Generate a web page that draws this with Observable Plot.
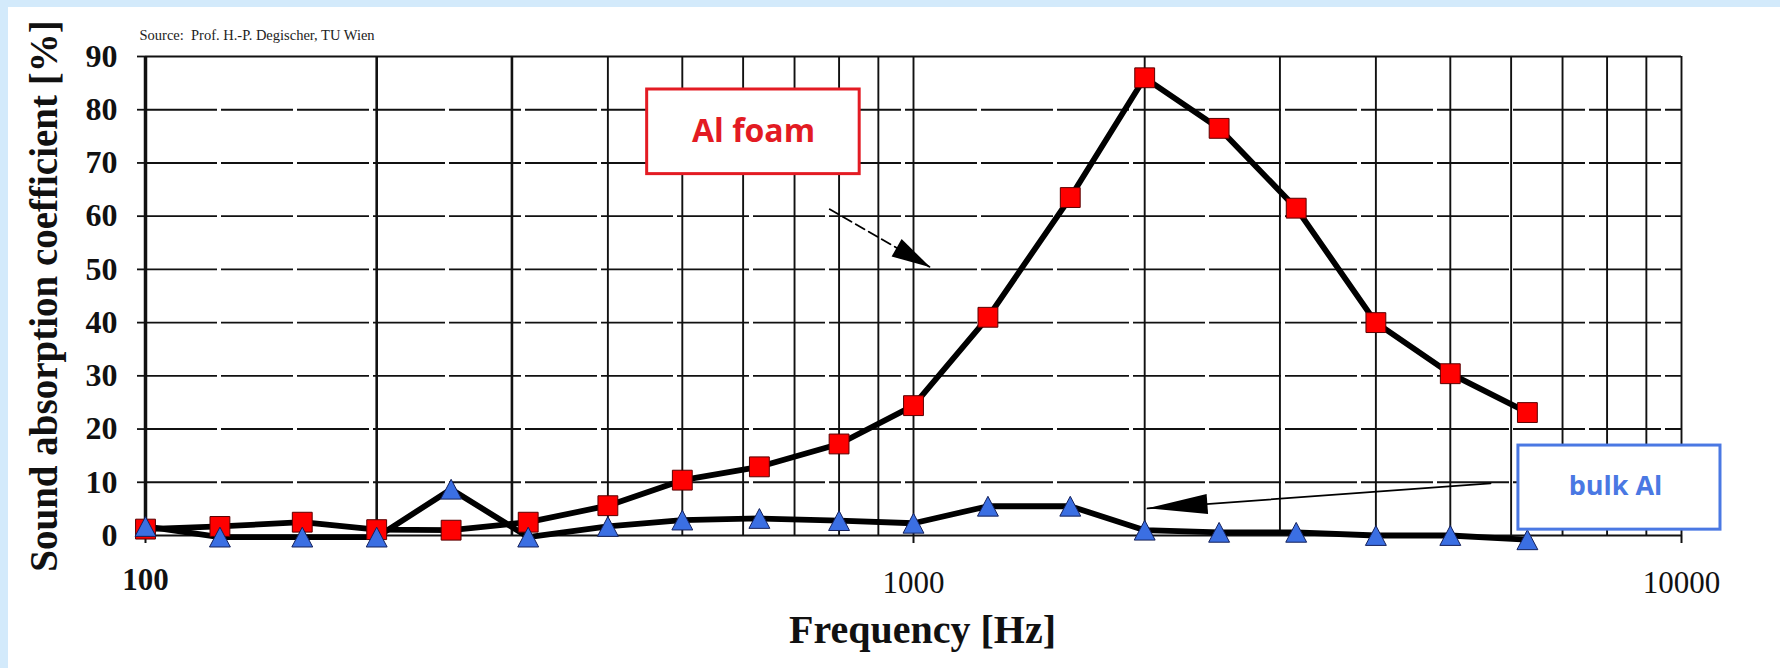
<!DOCTYPE html>
<html>
<head>
<meta charset="utf-8">
<script src="https://cdn.jsdelivr.net/npm/d3@7"></script>
<script src="https://cdn.jsdelivr.net/npm/@observablehq/plot@0.6"></script>
<style>
  html, body { margin: 0; padding: 0; background: #d3eafb; width: 1780px; height: 668px; overflow: hidden; }
  #wrap { position: absolute; left: 8px; top: 7px; width: 1772px; height: 661px; background: #ffffff; }
  #wrap svg { display: block; }
</style>
</head>
<body>
<div id="wrap"></div>
<script>
// ---- Data ----
const frequencies = [100, 125, 160, 200, 250, 315, 400, 500, 630, 800, 1000, 1250, 1600, 2000, 2500, 3150, 4000, 5000, 6300];
const alFoam      = [1.2, 1.7, 2.5, 1.1, 1.0, 2.5, 5.6, 10.4, 12.9, 17.2, 24.4, 41.0, 63.5, 86.0, 76.5, 61.5, 40.0, 30.4, 23.1];
const bulkAl      = [1.7, -0.3, -0.3, -0.3, 8.7, -0.3, 1.7, 2.9, 3.2, 2.8, 2.3, 5.5, 5.5, 1.0, 0.6, 0.6, 0.0, 0.0, -0.8];

// ---- Ticks / grid ----
const yTicks = [0, 10, 20, 30, 40, 50, 60, 70, 80, 90];
const yDashed = [10, 20, 30, 40, 50, 60, 70, 80];
const ySolid = [0, 90];
const xGrid = [100, 200, 300, 400, 500, 600, 700, 800, 900, 1000, 2000, 3000, 4000, 5000, 6000, 7000, 8000, 9000, 10000];
const xLabelsBold = [100];
const xLabelsPlain = [1000, 10000];

// ---- Annotations (data units) ----
const foamBox = [{x1: 450, x2: 851, y1: 67.9, y2: 83.8}];
const foamLabel = [{f: 619, v: 75.8, text: "Al foam"}];
const bulkBox = [{x1: 6133, x2: 11240, y1: 1.1, y2: 16.9}];
const bulkLabel = [{f: 8204, v: 9.2, text: "bulk Al"}];
const foamArrow = [{f: 778, v: 61.3}, {f: 1052, v: 50.4}];
const bulkArrow = [{f: 5640, v: 9.8}, {f: 2017, v: 5.1}];

const table = frequencies.map((f, i) => ({f, foam: alFoam[i], bulk: bulkAl[i]}));

const serif = "'Liberation Serif', 'Times New Roman', serif";
const sans = "'Open Sans', 'Noto Sans', sans-serif";

// triangle symbol centred on its bounding box
const triangleBox = {
  draw(ctx, size) {
    const k = Math.sqrt(size / Math.PI);
    ctx.moveTo(0, -0.9 * k);
    ctx.lineTo(0.95 * k, 0.9 * k);
    ctx.lineTo(-0.95 * k, 0.9 * k);
    ctx.closePath();
  }
};

// filled arrowhead marker
function headMarker(len, half) {
  return (color) => {
    const m = d3.create("svg:marker")
      .attr("viewBox", `${-len} ${-half} ${len} ${2 * half}`)
      .attr("markerWidth", len)
      .attr("markerHeight", 2 * half)
      .attr("markerUnits", "userSpaceOnUse")
      .attr("orient", "auto")
      .attr("refX", 0)
      .attr("refY", 0)
      .attr("overflow", "visible");
    m.append("path")
      .attr("d", `M0,0L${-len},${-half}L${-len},${half}Z`)
      .attr("fill", "black")
      .attr("stroke", "none")
      .attr("stroke-dasharray", "none");
    return m.node();
  };
}

const chart = Plot.plot({
  width: 1772,
  height: 661,
  marginLeft: 137,
  marginRight: 99,
  marginTop: 49,
  marginBottom: 133,
  style: {background: "transparent", overflow: "visible"},
  x: {type: "log", domain: [100, 10000]},
  y: {domain: [0, 90]},
  marks: [
    // horizontal grid
    Plot.ruleY(yDashed, {y: d => d, stroke: "#111", strokeWidth: 1.9, strokeDasharray: "72 4"}),
    Plot.ruleY(ySolid, {y: d => d, stroke: "#111", strokeWidth: 2}),
    // vertical grid
    Plot.ruleX(xGrid, {x: d => d, y1: 0, y2: 90, stroke: "#111",
      strokeWidth: d => d === 100 ? 3.5 : (d === 200 || d === 300) ? 2.6 : 1.9}),
    // axes
    Plot.axisY({ticks: yTicks, tickSize: 8, tickPadding: 20, tickFormat: d => String(d),
      fontSize: 32, fontWeight: "bold", fontFamily: serif, fill: "#111", stroke: "#111", strokeWidth: 1.8, label: null}),
    Plot.axisX(xLabelsBold, {tickSize: 8, tickPadding: 24, tickFormat: d => String(d),
      fontSize: 31, fontWeight: "bold", fontFamily: serif, fill: "#111", stroke: "#111", strokeWidth: 2, label: null}),
    Plot.axisX(xLabelsPlain, {tickSize: 8, tickPadding: 27, tickFormat: d => String(d),
      fontSize: 31, fontWeight: "normal", fontFamily: serif, fill: "#111", stroke: "#111", strokeWidth: 2, label: null}),
    // titles
    Plot.text(["Sound absorption coefficient [%]"], {frameAnchor: "left", rotate: -90, dx: -101,
      fontSize: 39, fontWeight: "bold", fontFamily: serif, fill: "#111", textAnchor: "middle", lineAnchor: "middle"}),
    Plot.text(["Frequency [Hz]"], {frameAnchor: "bottom", dx: 9, dy: 95,
      fontSize: 40, fontWeight: "bold", fontFamily: serif, fill: "#111", lineAnchor: "middle"}),
    Plot.text(["Source:  Prof. H.-P. Degischer, TU Wien"], {frameAnchor: "top-left", dx: -6, dy: -21,
      fontSize: 14.5, fontFamily: serif, fill: "#222", textAnchor: "start", lineAnchor: "middle"}),
    // data lines
    Plot.line(table, {x: "f", y: "foam", stroke: "black", strokeWidth: 5.8, strokeLinejoin: "round"}),
    Plot.line(table, {x: "f", y: "bulk", stroke: "black", strokeWidth: 5.8, strokeLinejoin: "round"}),
    // markers
    Plot.dot(table, {x: "f", y: "foam", symbol: "square", r: 11.2, fill: "#ff0000", stroke: "#5a0000", strokeWidth: 1}),
    Plot.dot(table, {x: "f", y: "bulk", symbol: triangleBox, r: 11, fill: "#3b6fe3", stroke: "#14205a", strokeWidth: 1}),
    // annotation arrows
    Plot.line(foamArrow, {x: "f", y: "v", stroke: "black", strokeWidth: 1.8, strokeDasharray: "10 5", markerEnd: headMarker(39, 10)}),
    Plot.line(bulkArrow, {x: "f", y: "v", stroke: "black", strokeWidth: 1.8, markerEnd: headMarker(60, 10)}),
    // annotation boxes
    Plot.rect(foamBox, {x1: "x1", x2: "x2", y1: "y1", y2: "y2", fill: "white", stroke: "#e31b23", strokeWidth: 3}),
    Plot.text(foamLabel, {x: "f", y: "v", text: "text", fontSize: 32, fontWeight: "bold", fontFamily: sans, fill: "#e31b23", lineAnchor: "middle"}),
    Plot.rect(bulkBox, {x1: "x1", x2: "x2", y1: "y1", y2: "y2", fill: "white", stroke: "#4a78e3", strokeWidth: 3}),
    Plot.text(bulkLabel, {x: "f", y: "v", text: "text", fontSize: 27, fontWeight: "bold", fontFamily: sans, fill: "#4a78e3", lineAnchor: "middle"})
  ]
});
document.getElementById("wrap").appendChild(chart);
</script>
</body>
</html>
